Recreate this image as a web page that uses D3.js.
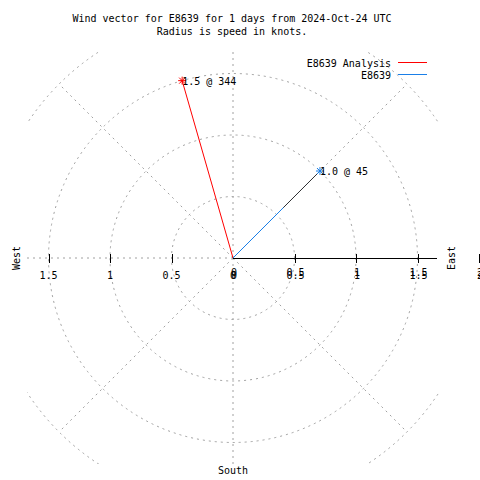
<!DOCTYPE html>
<html><head><meta charset="utf-8">
<script src="https://cdn.jsdelivr.net/npm/d3@7"></script>
<style>body{margin:0;background:#fff}svg{display:block}text{font-family:"DejaVu Sans Mono",monospace;font-size:10px;fill:#000}</style>
</head><body><svg id="c" width="480" height="480"></svg>
<script>
const titleLines = ["Wind vector for E8639 for 1 days from 2024-Oct-24 UTC", "Radius is speed in knots."];
const seriesNames = ["E8639 Analysis", "E8639"];
const speeds = [1.5, 1.0];
const directions = [344, 45];
const seriesColors = ["#ff0000", "#1a7fe8"];
// portion of each vector (from this speed outward) that shows as a dark stroke in the reference
const darkFrom = [null, 0.58];
const radiusTicks = [0, 0.5, 1, 1.5, 2];
const tickLabels = ["0", "0.5", "1", "1.5", "2"];
const gridCircles = [0.5, 1, 1.5, 2];
const radialAngles = [0, 45, 90, 135, 180, 225, 270, 315];
const compassLabels = ["West", "East", "South"];

const svg = d3.select("#c");
const cx = 233, cy = 258, half = 206;
const r = d3.scaleLinear().domain([0, 2]).range([0, 246]);
const gridCol = "#a0a0a0";

svg.append("defs").append("clipPath").attr("id", "pc").append("rect")
  .attr("x", cx - half).attr("y", cy - half).attr("width", 2 * half).attr("height", 2 * half);
const g = svg.append("g").attr("clip-path", "url(#pc)");

gridCircles.forEach(v => g.append("circle").attr("cx", cx).attr("cy", cy).attr("r", r(v))
  .attr("fill", "none").attr("stroke", gridCol).attr("stroke-dasharray", "2,4"));
radialAngles.forEach(a => {
  if (a === 90) return;
  const rad = a * Math.PI / 180;
  g.append("line").attr("x1", cx).attr("y1", cy)
    .attr("x2", cx + r(2) * Math.sin(rad)).attr("y2", cy - r(2) * Math.cos(rad))
    .attr("stroke", gridCol).attr("stroke-dasharray", "2,4");
});

svg.append("line").attr("x1", cx).attr("y1", cy + 0.5).attr("x2", cx + half - 2).attr("y2", cy + 0.5)
  .attr("stroke", "#000");
radiusTicks.forEach((v, i) => {
  if (v > 0) {
    [1, -1].forEach(s => {
      const x = Math.round(cx + s * r(v)) + 0.5;
      svg.append("line").attr("x1", x).attr("x2", x).attr("y1", cy - 4).attr("y2", cy + 5).attr("stroke", "#000");
    });
  }
  if (v < 2) svg.append("text").attr("x", cx - r(v)).attr("y", 279).attr("text-anchor", "middle").text(tickLabels[i]);
  [276, 279].forEach(y => svg.append("text").attr("x", cx + r(v) + 1).attr("y", y).attr("text-anchor", "middle").text(tickLabels[i]));
});

svg.append("text").attr("transform", `translate(20,${cy}) rotate(-90)`).attr("text-anchor", "middle").text(compassLabels[0]);
svg.append("text").attr("transform", `translate(455,${cy}) rotate(-90)`).attr("text-anchor", "middle").text(compassLabels[1]);
svg.append("text").attr("x", cx).attr("y", 474).attr("text-anchor", "middle").text(compassLabels[2]);

const pt = (s, deg) => { const rad = deg * Math.PI / 180; return [cx + r(s) * Math.sin(rad), cy - r(s) * Math.cos(rad)]; };
speeds.forEach((s, i) => {
  const [x, y] = pt(s, directions[i]);
  svg.append("line").attr("x1", cx).attr("y1", cy).attr("x2", x).attr("y2", y)
    .attr("stroke", seriesColors[i]).attr("stroke-width", 1);
  if (darkFrom[i] != null) {
    const [x0, y0] = pt(darkFrom[i], directions[i]);
    svg.append("line").attr("x1", x0).attr("y1", y0).attr("x2", x).attr("y2", y)
      .attr("stroke", "#333").attr("stroke-width", 1);
  }
  [[4, 0], [0, 4], [3, 3], [3, -3]].forEach(([dx, dy]) =>
    svg.append("line").attr("x1", x - dx).attr("y1", y - dy).attr("x2", x + dx).attr("y2", y + dy)
      .attr("stroke", seriesColors[i]));
  svg.append("text").attr("x", x).attr("y", y + 4).text(`${s.toFixed(1)} @ ${directions[i]}`);
});

titleLines.forEach((t, i) => svg.append("text").attr("x", 232).attr("y", 22 + i * 13).attr("text-anchor", "middle").text(t));

seriesNames.forEach((n, i) => {
  const y = 67 + i * 12;
  svg.append("text").attr("x", 391).attr("y", y).attr("text-anchor", "end").text(n);
  svg.append("line").attr("x1", 398).attr("x2", 427).attr("y1", y - 4.5).attr("y2", y - 4.5)
    .attr("stroke", seriesColors[i]);
});
</script></body></html>
